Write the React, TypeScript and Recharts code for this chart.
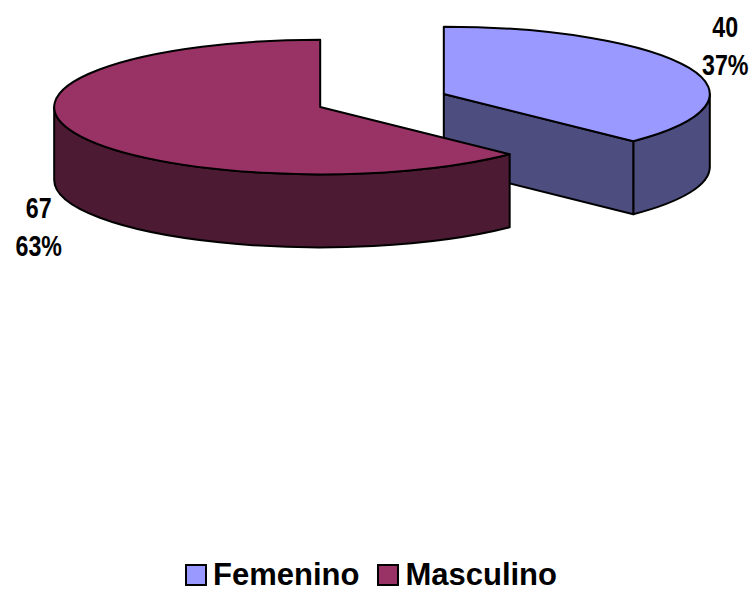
import React from 'react';
import { PieChart, Pie, Legend } from 'recharts';

const categories = ['Femenino', 'Masculino'];
const values = [40, 67];
const topColors = ['#9999FF', '#993366'];
const sideColors = ['#4D4D80', '#4D1A33'];

const data = categories.map((name, i) => ({
  name,
  value: values[i],
  fill: topColors[i],
  side: sideColors[i],
}));

// fake 3d: flatten the pie into an ellipse and give it a wall
const TILT = 0.253;
const DEPTH = 73;
const EXPLODE = 67;
const FONT = "'Liberation Sans', Arial, sans-serif";

const rad = (a: number) => (a * Math.PI) / 180;

const Slice3D = (props: any) => {
  const { cx, cy, outerRadius: r, startAngle, endAngle, midAngle, payload } = props;
  const hi = Math.max(startAngle, endAngle);
  const lo = Math.min(startAngle, endAngle);
  const ox = cx + EXPLODE * Math.cos(rad(midAngle));
  const oy = cy - EXPLODE * TILT * Math.sin(rad(midAngle));
  const ry = r * TILT;
  const pt = (a: number, dz = 0) => [ox + r * Math.cos(rad(a)), oy - ry * Math.sin(rad(a)) + dz];
  const side = payload?.side ?? '#444';
  const walls: string[] = [];

  // outer curved wall, only the part facing us
  for (let k = -2; k <= 1; k++) {
    const a = Math.max(lo, -180 + 360 * k);
    const b = Math.min(hi, 360 * k);
    if (b - a > 0.01) {
      const [x1, y1] = pt(b);
      const [x2, y2] = pt(a);
      const large = b - a > 180 ? 1 : 0;
      walls.push(
        `M${x1},${y1} A${r},${ry} 0 ${large} 1 ${x2},${y2} L${x2},${y2 + DEPTH} A${r},${ry} 0 ${large} 0 ${x1},${y1 + DEPTH} Z`
      );
    }
  }
  // flat cut faces
  const face = (a: number) => {
    const [x, y] = pt(a);
    return `M${ox},${oy} L${x},${y} L${x},${y + DEPTH} L${ox},${oy + DEPTH} Z`;
  };
  if (Math.cos(rad(hi)) < -0.001) walls.push(face(hi));
  if (Math.cos(rad(lo)) > 0.001) walls.push(face(lo));

  const [sx, sy] = pt(hi);
  const [ex, ey] = pt(lo);
  const top = `M${ox},${oy} L${sx},${sy} A${r},${ry} 0 ${hi - lo > 180 ? 1 : 0} 1 ${ex},${ey} Z`;

  return (
    <g>
      {walls.map((d, i) => (
        <path key={i} d={d} fill={side} stroke="#000" strokeWidth={2} strokeLinejoin="round" />
      ))}
      <path d={top} fill={payload?.fill ?? props.fill} stroke="#000" strokeWidth={2} strokeLinejoin="round" />
    </g>
  );
};

const renderLabel = (props: any) => {
  const { cx, cy, outerRadius: r, midAngle, value, percent } = props;
  const s = Math.sin(rad(midAngle));
  const c = Math.cos(rad(midAngle));
  const ox = cx + EXPLODE * c;
  const oy = cy - EXPLODE * TILT * s;
  const lr = r * 1.147;
  const x = ox + lr * c;
  const yMid = oy - lr * TILT * s + (s < 0 ? DEPTH + 27 : -8);
  // squeezed sideways to look like a narrow font
  return (
    <g transform={`translate(${x},${yMid}) scale(0.8,1)`}>
      <text x={0} y={0} textAnchor="middle" fontFamily={FONT} fontWeight="bold" fontSize={29} fill="#000">
        <tspan x={0} y={-19}>{value}</tspan>
        <tspan x={0} y={19}>{`${Math.round(percent * 100)}%`}</tspan>
      </text>
    </g>
  );
};

const renderLegend = (props: any) => {
  const items = props.payload ?? [];
  return (
    <div style={{ display: 'flex', justifyContent: 'center', alignItems: 'center', height: 30, paddingRight: 10 }}>
      {items.map((it: any, i: number) => (
        <div key={i} style={{ display: 'flex', alignItems: 'center', marginRight: i < items.length - 1 ? 18 : 0 }}>
          <span
            style={{
              width: 18,
              height: 18,
              background: topColors[i] ?? it.color,
              border: '2px solid #000',
              marginRight: 6,
              display: 'inline-block',
            }}
          />
          <span style={{ fontFamily: FONT, fontWeight: 'bold', fontSize: 31, lineHeight: '30px', color: '#000' }}>
            {it.value}
          </span>
        </div>
      ))}
    </div>
  );
};

export default function App() {
  return (
    <div style={{ position: 'absolute', left: 0, top: 0, background: '#fff' }}>
      <PieChart width={752} height={593} margin={{ top: 0, right: 0, bottom: 0, left: 0 }}>
        <Pie
          data={data}
          dataKey="value"
          nameKey="name"
          cx={382}
          cy={100.5}
          outerRadius={266}
          startAngle={90}
          endAngle={-270}
          stroke="none"
          labelLine={false}
          label={renderLabel}
          shape={Slice3D}
          inactiveShape={Slice3D}
          activeShape={Slice3D}
          isAnimationActive={false}
        />
        <Legend verticalAlign="bottom" align="center" content={renderLegend} wrapperStyle={{ left: 0, width: 752, bottom: 3 }} />
      </PieChart>
    </div>
  );
}
